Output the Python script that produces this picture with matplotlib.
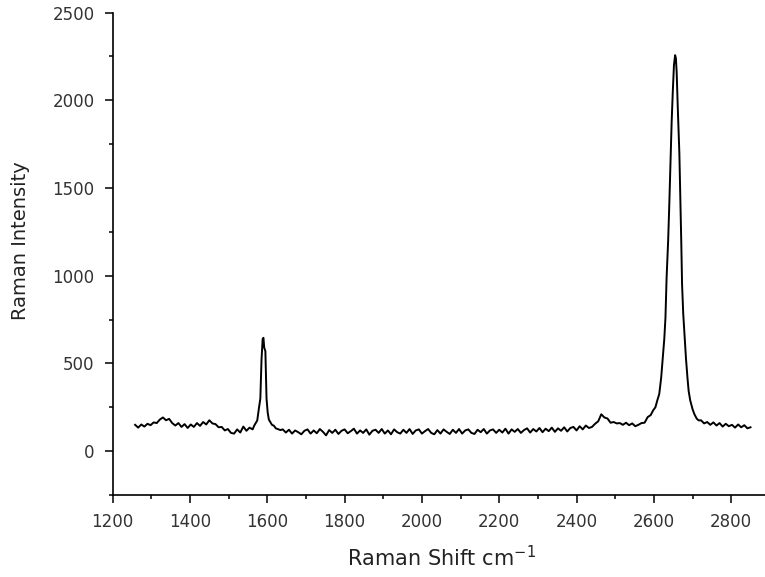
import numpy as np
import matplotlib
matplotlib.use("Agg")
import matplotlib.pyplot as plt
from matplotlib.ticker import MultipleLocator

# Raman spectrum, split into pieces: flat stretches sampled every 8 cm-1,
# the two sharp bands listed point by point.
start_a = 1258
band_a = [150, 134, 152, 140, 156, 148, 164, 160, 180, 192,
          176, 184, 160, 146, 160, 138, 154, 132, 152, 138,
          160, 144, 166, 152, 176, 158, 154, 136, 138, 118,
          126, 104, 100, 124, 106, 140, 116, 134, 124]

g_shift = [1566, 1570, 1574, 1578, 1582, 1585, 1588, 1590, 1592, 1595,
           1598, 1601, 1604, 1608, 1612, 1617, 1622, 1628, 1634]
g_int = [145, 160, 175, 240, 300, 520, 640, 646, 590, 570,
         300, 220, 180, 165, 150, 145, 130, 125, 120]

start_b = 1640
band_b = [124, 106, 122, 100, 118, 108, 96, 116, 124, 100,
          118, 102, 126, 110, 90, 120, 104, 122, 98, 116,
          124, 102, 114, 128, 100, 118, 104, 124, 94, 116,
          122, 104, 126, 100, 118, 96, 124, 108, 100, 122,
          104, 126, 98, 118, 124, 100, 114, 126, 104, 96,
          120, 100, 124, 110, 98, 122, 104, 126, 100, 118,
          124, 104, 98, 122, 108, 126, 100, 118, 124, 104,
          122, 106, 128, 100, 124, 110, 126, 104, 120, 130,
          106, 126, 112, 132, 108, 128, 114, 134, 110, 130,
          116, 136, 112, 132, 138, 118, 142, 124, 146, 132]

start_d = 2440
band_d = [138, 156, 170, 210, 192, 186, 162, 166, 158, 160,
          150, 162, 148, 158, 142, 150, 160, 162, 194, 206]

g2_shift = [2598, 2604, 2609, 2614, 2619, 2623, 2627, 2630, 2633, 2637,
            2640, 2643, 2646, 2649, 2652, 2655, 2657, 2659, 2662, 2666,
            2669, 2671, 2673, 2676, 2680, 2683, 2687, 2690, 2694, 2700,
            2705, 2711, 2716]
g2_int = [232, 250, 290, 326, 420, 531, 640, 760, 990, 1200,
          1411, 1650, 1874, 2050, 2200, 2257, 2240, 2160, 1950, 1697,
          1400, 1183, 950, 783, 640, 531, 417, 343, 290, 240,
          210, 185, 175]

start_c = 2722
band_c = [176, 158, 166, 150, 164, 146, 160, 140, 156, 142,
          150, 134, 152, 136, 148, 130, 136]

step = 8


def flat(start, values):
    return start + step * np.arange(len(values)), np.asarray(values, float)


pieces = [flat(start_a, band_a), (np.array(g_shift), np.array(g_int, float)),
          flat(start_b, band_b), flat(start_d, band_d),
          (np.array(g2_shift), np.array(g2_int, float)), flat(start_c, band_c)]
shift = np.concatenate([p[0] for p in pieces])
intensity = np.concatenate([p[1] for p in pieces])

plt.rcParams['font.family'] = ['DejaVu Sans']

fig = plt.figure(figsize=(7.65, 5.77), dpi=100)
ax = fig.add_axes([0.1473, 0.1421, 0.859, 0.8362])
ax.plot(shift, intensity, color='black', lw=1.4)

ax.set_xlim(1200, 2900)
ax.set_ylim(-250, 2500)
ax.xaxis.set_major_locator(MultipleLocator(200))
ax.xaxis.set_minor_locator(MultipleLocator(100))
ax.yaxis.set_major_locator(MultipleLocator(500))
ax.yaxis.set_minor_locator(MultipleLocator(250))

for side in ('top', 'right'):
    ax.spines[side].set_visible(False)
for side in ('left', 'bottom'):
    ax.spines[side].set_linewidth(1.2)

ax.tick_params(which='major', direction='out', length=6, width=1.1,
               labelsize=12, pad=7, colors='black', labelcolor='#333333')
ax.tick_params(which='minor', direction='out', length=3, width=1.1)

ax.set_xlabel(r'Raman Shift cm$^{\mathregular{-1}}$', fontsize=15, color='#222222')
ax.set_ylabel('Raman Intensity', fontsize=14, color='#222222')
ax.xaxis.set_label_coords(0.5, -0.104)
ax.yaxis.set_label_coords(-0.126, 0.528)

fig.savefig('out.png', dpi=100)
